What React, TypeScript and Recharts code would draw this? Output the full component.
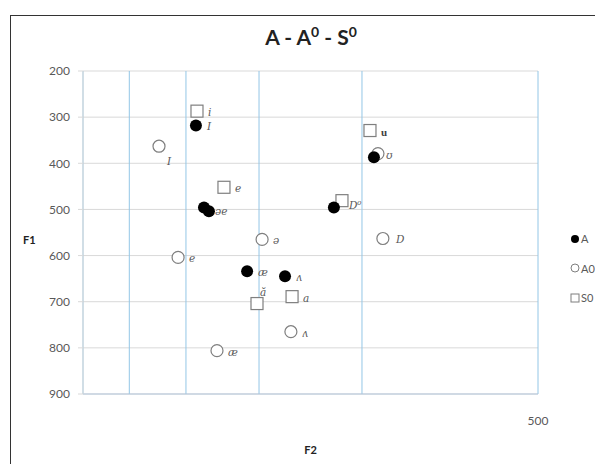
import React from 'react';
import { ScatterChart, Scatter, XAxis, YAxis, CartesianGrid } from 'recharts';

const xTicks = [500, 1000, 1500, 2000, 2500];
const yTicks = [200, 300, 400, 500, 600, 700, 800, 900];

const seriesA = [
  { f2: 1923, f1: 318, label: 'I' },
  { f2: 1863, f1: 496, label: '' },
  { f2: 1827, f1: 504, label: 'əe' },
  { f2: 954, f1: 387, label: '' },
  { f2: 1117, f1: 496, label: '' },
  { f2: 1572, f1: 634, label: 'æ' },
  { f2: 1354, f1: 645, label: 'ʌ' },
];

const seriesA0 = [
  { f2: 2224, f1: 363, label: 'I' },
  { f2: 939, f1: 379, label: 'ʊ' },
  { f2: 1482, f1: 565, label: 'ə' },
  { f2: 921, f1: 563, label: 'D' },
  { f2: 2063, f1: 604, label: 'e' },
  { f2: 1323, f1: 765, label: 'ʌ' },
  { f2: 1770, f1: 806, label: 'æ' },
];

const seriesS0 = [
  { f2: 1915, f1: 287, label: 'i' },
  { f2: 969, f1: 329, label: 'u' },
  { f2: 1722, f1: 452, label: 'e' },
  { f2: 1082, f1: 481, label: 'D⁰' },
  { f2: 1317, f1: 689, label: 'a' },
  { f2: 1512, f1: 704, label: 'ă' },
];

const seriesNames = ['A', 'A0', 'S0'];

// label placement tweaks (series:label -> [dx, dy])
const labelOffsets: Record<string, [number, number]> = {
  'A:əe': [6, 4],
  'A0:I': [8, 19],
  'A0:ʊ': [8, 5],
  'S0:ă': [3, -8],
  'S0:D⁰': [7, 8],
  'A0:D': [13, 5],
};

const GREY = '#7f7f7f';
const TEXT = '#595959';

function Label({ cx, cy, text, series }: { cx: number; cy: number; text: string; series: string }) {
  if (!text) return null;
  const off = labelOffsets[series + ':' + text] || [11, 5];
  const bold = series === 'S0' && text === 'u';
  return (
    <text
      x={cx + off[0]}
      y={cy + off[1]}
      fontFamily={bold ? 'Liberation Serif, serif' : 'DejaVu Serif, serif'}
      fontStyle={bold ? 'normal' : 'italic'}
      fontWeight={bold ? 700 : 400}
      fontSize={bold ? 11 : 10.5}
      fill={bold ? '#404040' : TEXT}
    >
      {text}
    </text>
  );
}

const shapeA = (p: any) => (
  <g>
    <circle cx={p.cx} cy={p.cy} r={6} fill="#000" />
    <Label cx={p.cx} cy={p.cy} text={p.payload.label} series="A" />
  </g>
);

const shapeA0 = (p: any) => (
  <g>
    <circle cx={p.cx} cy={p.cy} r={6} fill="#fff" stroke={GREY} strokeWidth={1.2} />
    <Label cx={p.cx} cy={p.cy} text={p.payload.label} series="A0" />
  </g>
);

const shapeS0 = (p: any) => (
  <g>
    <rect x={p.cx - 6} y={p.cy - 6} width={12} height={12} fill="#fff" stroke={GREY} strokeWidth={1.2} />
    <Label cx={p.cx} cy={p.cy} text={p.payload.label} series="S0" />
  </g>
);

export default function App() {
  return (
    <div style={{ position: 'relative', width: 603, height: 464, margin: '-8px 0 0 -8px', overflow: 'hidden', background: '#fff' }}>
      <div
        style={{
          position: 'absolute',
          left: 10,
          top: 15,
          width: 620,
          height: 480,
          border: '1.5px solid #333',
          boxSizing: 'border-box',
        }}
      />
      <div
        style={{
          position: 'absolute',
          left: 0,
          width: 622,
          top: 23,
          textAlign: 'center',
          fontFamily: 'Lato, sans-serif',
          fontSize: 21,
          fontWeight: 700,
          color: '#222',
        }}
      >
        A - A<sup style={{ fontSize: 14 }}>0</sup> - S<sup style={{ fontSize: 14 }}>0</sup>
      </div>
      <div style={{ position: 'absolute', left: 0, top: 0 }}>
        <ScatterChart width={603} height={464} margin={{ top: 71, right: 65, bottom: 0, left: 0 }}>
          <CartesianGrid horizontal={true} vertical={false} stroke="#d9d9d9" />
          <CartesianGrid horizontal={false} vertical={true} stroke="#93c6e6" />
          <XAxis
            type="number"
            dataKey="f2"
            scale="log"
            domain={[500, 3000]}
            reversed
            ticks={xTicks}
            tickFormatter={(v: number) => (v === 500 ? '500' : '')}
            height={70}
            tickSize={0}
            tickMargin={22}
            axisLine={{ stroke: '#b4c7dc' }}
            tick={{ fill: TEXT, fontSize: 12, fontFamily: 'Lato, sans-serif' }}
            allowDataOverflow
            label={{ value: 'F2', position: 'insideBottom', offset: 10, fill: '#222', fontSize: 11, fontWeight: 700, fontFamily: 'Lato, sans-serif' }}
          />
          <YAxis
            type="number"
            dataKey="f1"
            domain={[200, 900]}
            reversed
            ticks={yTicks}
            width={83}
            tickSize={5}
            tickMargin={8}
            axisLine={{ stroke: '#d9d9d9' }}
            tickLine={{ stroke: '#d9d9d9' }}
            tick={{ fill: TEXT, fontSize: 12, fontFamily: 'Lato, sans-serif' }}
            label={{ value: 'F1', position: 'insideLeft', offset: 23, dy: 8, fill: '#222', fontSize: 11, fontWeight: 700, fontFamily: 'Lato, sans-serif' }}
          />
          <Scatter name="S0" data={seriesS0} shape={shapeS0} isAnimationActive={false} />
          <Scatter name="A0" data={seriesA0} shape={shapeA0} isAnimationActive={false} />
          <Scatter name="A" data={seriesA} shape={shapeA} isAnimationActive={false} />
        </ScatterChart>
      </div>
      <div
        style={{
          position: 'absolute',
          left: 570,
          top: 224,
          width: 40,
          whiteSpace: 'nowrap',
          fontFamily: 'Lato, sans-serif',
          fontSize: 11,
          color: TEXT,
        }}
      >
        {seriesNames.map((n, i) => (
          <div key={n} style={{ display: 'flex', alignItems: 'center', height: 29.5 }}>
            <svg width={10} height={10} style={{ marginRight: 1, flexShrink: 0 }}>
              {i === 0 && <circle cx={5} cy={5} r={4} fill="#000" />}
              {i === 1 && <circle cx={5} cy={5} r={4} fill="#fff" stroke={GREY} />}
              {i === 2 && <rect x={1} y={1} width={8} height={8} fill="#fff" stroke={GREY} />}
            </svg>
            <span>{n}</span>
          </div>
        ))}
      </div>
    </div>
  );
}
